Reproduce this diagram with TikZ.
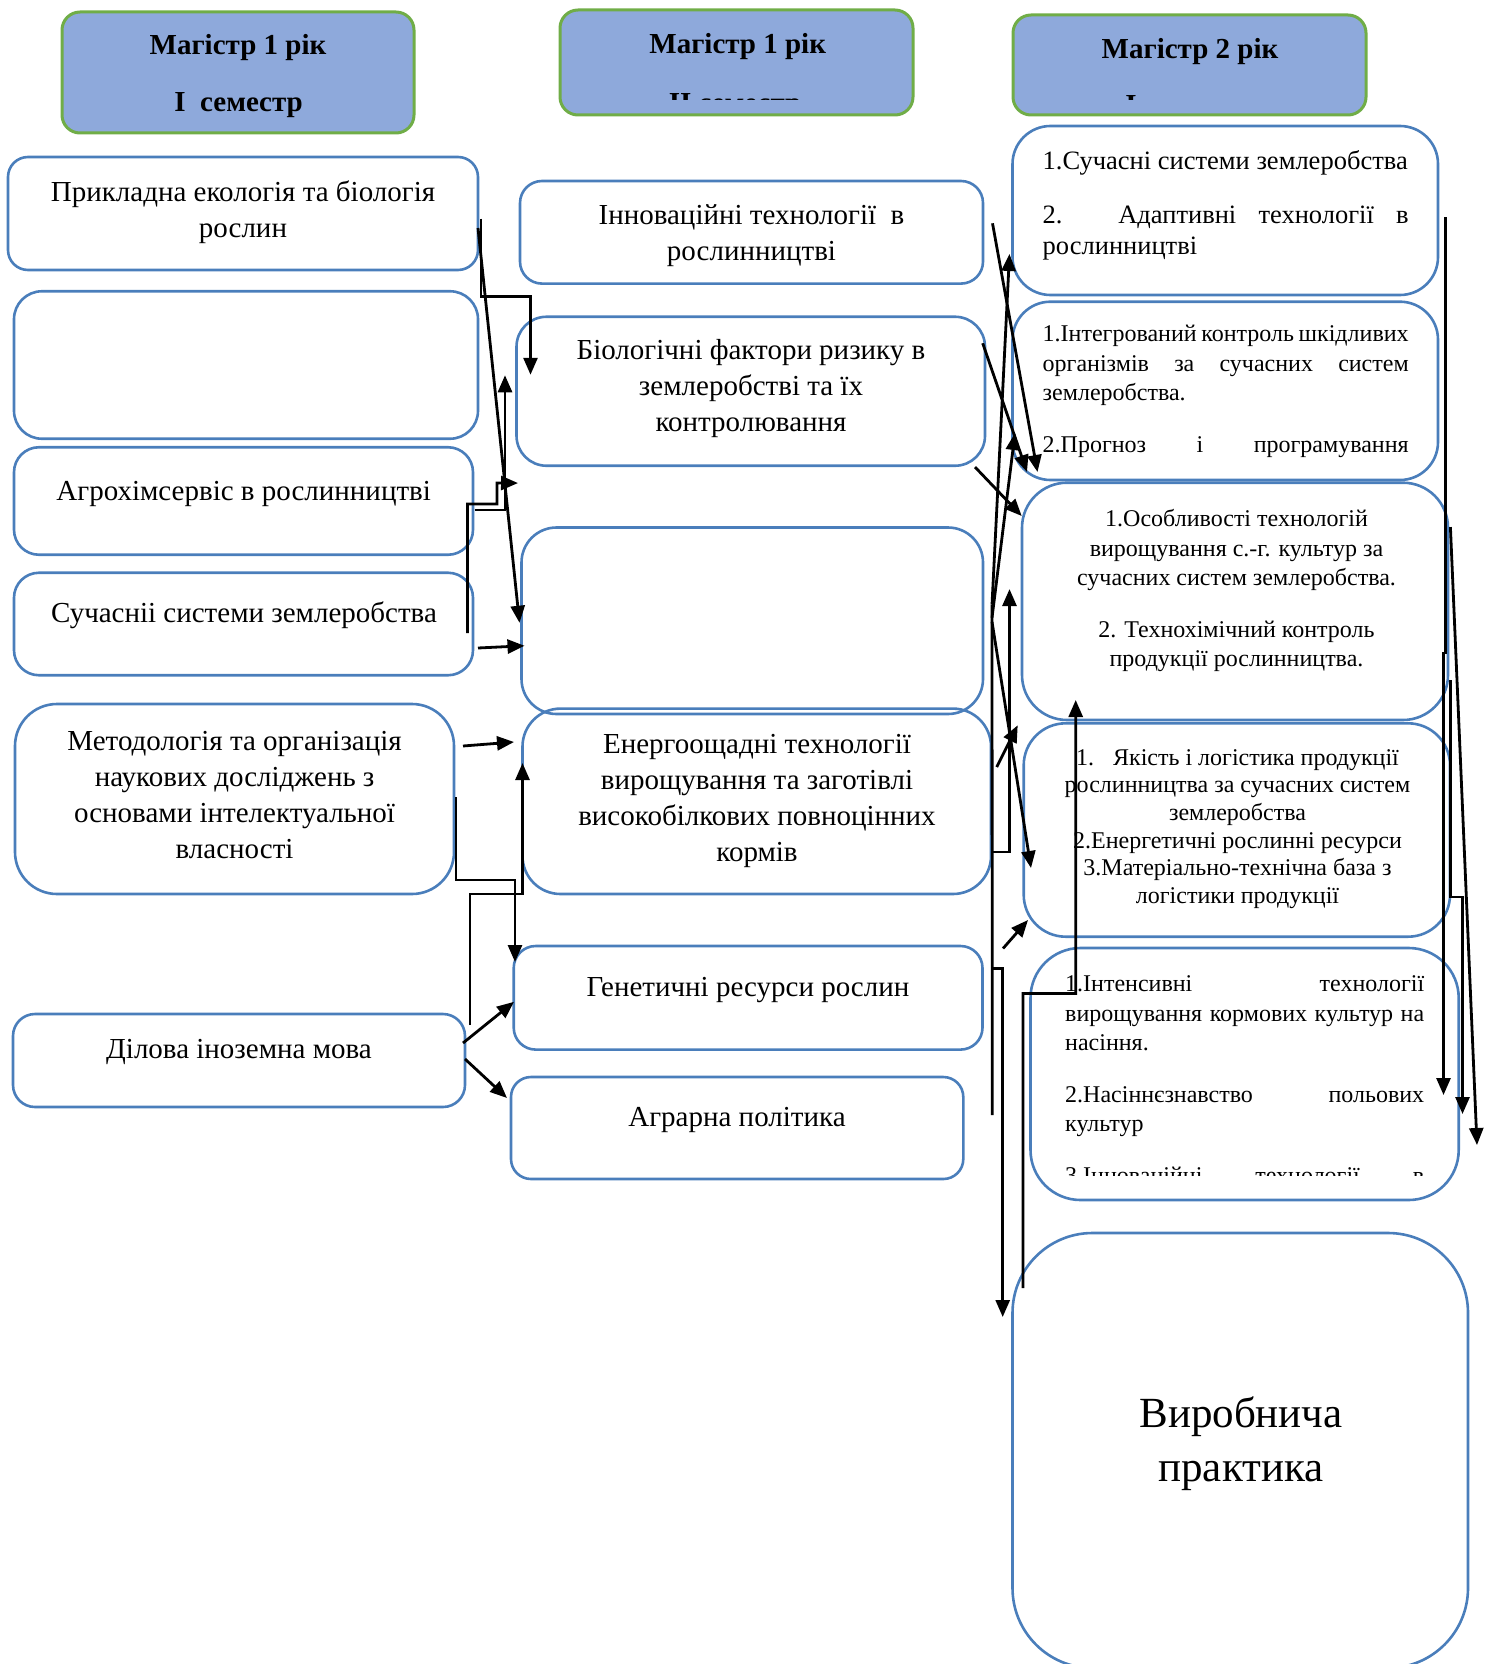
\documentclass[tikz,border=0pt]{standalone}
\usepackage{fontspec}
\setmainfont{Liberation Serif}
\usetikzlibrary{arrows.meta,calc}

\definecolor{boxblue}{RGB}{74,126,187}
\definecolor{hdrfill}{RGB}{142,169,219}
\definecolor{hdrgreen}{RGB}{112,173,71}

\newcommand{\ctab}[1]{\begin{tabular}[t]{@{}c@{}}#1\end{tabular}}
\newcommand{\ltab}[1]{\begin{tabular}[t]{@{}l@{}}#1\end{tabular}}
\newcommand{\jl}[2]{\makebox[#1][s]{#2}}

\begin{document}
\begin{tikzpicture}[x=1pt,y=-1pt]
\tikzstyle{box}=[draw=boxblue,line width=2.6pt,inner sep=0pt,outer sep=0pt]
\tikzstyle{hdr}=[draw=hdrgreen,fill=hdrfill,line width=3pt,rounded corners=18pt,inner sep=0pt,outer sep=0pt]
\tikzstyle{txt}=[inner sep=0pt,anchor=base]
\tikzstyle{hdrtxt}=[txt,font=\bfseries\fontsize{29}{34}\selectfont]
\tikzstyle{bigtxt}=[txt,font=\fontsize{29}{36}\selectfont]
\tikzstyle{midtxt}=[txt,font=\fontsize{26.5}{31.7}\selectfont]
\tikzstyle{smtxt}=[txt,font=\fontsize{24}{29.5}\selectfont]
\tikzstyle{tinytxt}=[txt,font=\fontsize{24}{27.7}\selectfont]
\tikzstyle{hugetxt}=[txt,font=\fontsize{43}{54}\selectfont]
\tikzstyle{arr}=[-{Triangle[length=17pt,width=14pt]},line width=2.8pt]
\tikzstyle{ln}=[line width=2.8pt]
\path[use as bounding box,clip] (0,0) rectangle (1488,1664);

% headers
\node[hdr,minimum width=352pt,minimum height=121pt] (h1) at (238,72.5) {};
\node[hdr,minimum width=353pt,minimum height=105pt] (h2) at (736.5,62.5) {};
\node[hdr,minimum width=353pt,minimum height=100pt] (h3) at (1189.5,65) {};
\node[hdrtxt] (h1a) at (238,55) {Магістр 1 рік};
\node[hdrtxt] (h1b) at (238.6,111.7) {І\ \ семестр};
\node[hdrtxt] (h2a) at (737.7,53.3) {Магістр 1 рік};
\begin{scope}
\clip (560,40) rectangle (913,100);
\node[hdrtxt] (h2b) at (735,112.5) {ІІ семестр};
\end{scope}
\node[hdrtxt] (h3a) at (1190,58.3) {Магістр 2 рік};
\begin{scope}
\clip (1013,40) rectangle (1366,100);
\node[hdrtxt] (h3b) at (1186,114.5) {І семестр};
\end{scope}

% first semester
\node[box,rounded corners=20pt,minimum width=470pt,minimum height=113pt] (l1) at (243,213.5) {};
\node[box,rounded corners=28pt,minimum width=464pt,minimum height=147.5pt] (l2) at (246,365) {};
\node[box,rounded corners=25pt,minimum width=459pt,minimum height=107.5pt] (l3) at (243.5,501) {};
\node[box,rounded corners=25pt,minimum width=459pt,minimum height=102.5pt] (l4) at (243.5,624) {};
\node[box,rounded corners=42pt,minimum width=439pt,minimum height=190pt] (l5) at (234.5,799) {};
\node[box,rounded corners=22pt,minimum width=452pt,minimum height=93pt] (l6) at (239,1060.5) {};
\node[bigtxt] (l1t) at (243,201) {\ctab{Прикладна екологія та біологія\\ рослин}};
\node[bigtxt] (l3t) at (243.7,500) {Агрохімсервіс в рослинництві};
\node[bigtxt] (l4t) at (244,622) {Сучасніі системи землеробства};
\node[bigtxt] (l5t) at (234.6,750) {\ctab{Методологія та організація\\ наукових досліджень з\\ основами інтелектуальної\\ власності}};
\node[bigtxt] (l6t) at (239,1058) {Ділова іноземна мова};

% second semester
\node[box,rounded corners=22pt,minimum width=463pt,minimum height=102.6pt] (m1) at (751.5,232.3) {};
\node[box,rounded corners=30pt,minimum width=468.5pt,minimum height=149pt] (m2) at (750.75,391.25) {};
\node[box,rounded corners=35pt,minimum width=461.5pt,minimum height=186.5pt] (m3) at (752.25,620.75) {};
\node[box,rounded corners=38pt,minimum width=468.5pt,minimum height=185.4pt] (m4) at (756.75,801.3) {};
\node[box,rounded corners=22pt,minimum width=468.8pt,minimum height=103.6pt] (m5) at (748.1,997.8) {};
\node[box,rounded corners=20pt,minimum width=452.3pt,minimum height=102pt] (m6) at (737.15,1128) {};
\node[bigtxt] (m1t) at (751.5,224) {\ctab{Інноваційні технології\ \ в\\ рослинництві}};
\node[bigtxt] (m2t) at (751,359.6) {\ctab{Біологічні фактори ризику в\\ землеробстві та їх\\ контролювання}};
\node[bigtxt] (m4t) at (757,753) {\ctab{Енергоощадні технології\\ вирощування та заготівлі\\ високобілкових повноцінних\\ кормів}};
\node[bigtxt] (m5t) at (748,996) {Генетичні ресурси рослин};
\node[bigtxt] (m6t) at (737,1126) {Аграрна політика};

% second year
\node[box,rounded corners=38pt,minimum width=425.5pt,minimum height=169pt] (r1) at (1225.25,210.5) {};
\node[box,rounded corners=38pt,minimum width=425.5pt,minimum height=178.3pt] (r2) at (1225.25,390.85) {};
\node[box,rounded corners=45pt,minimum width=426pt,minimum height=237.3pt] (r3) at (1235,601.35) {};
\node[box,rounded corners=42pt,minimum width=426.3pt,minimum height=213.4pt] (r4) at (1236.85,830) {};
\node[box,rounded corners=50pt,minimum width=428.2pt,minimum height=252pt] (r5) at (1244.6,1074) {};
\node[box,rounded corners=80pt,minimum width=455.5pt,minimum height=435pt] (r6) at (1240.25,1450.5) {};
\node[midtxt,anchor=base west] (r1t) at (1042.5,170) {\ltab{1.Сучасні системи землеробства\\[21.6pt]
  \jl{366pt}{2. Адаптивні технології в}\\ рослинництві}};
\node[smtxt,anchor=base west] (r2t) at (1042.5,341.7) {\ltab{\jl{366pt}{1.Інтегрований контроль шкідливих}\\
  \jl{366pt}{організмів за сучасних систем}\\ землеробства.\\[22pt] \jl{366pt}{2.Прогноз і програмування}}};
\node[smtxt] (r3t) at (1236.5,526.7) {\ctab{1.Особливості технологій\\ вирощування с.-г. культур за\\
  сучасних систем землеробства.\\[22pt] 2. Технохімічний контроль\\ продукції рослинництва.}};
\node[tinytxt] (r4t) at (1237.5,765) {\ctab{1.\hspace{19pt}Якість і логістика продукції\\ рослинництва за сучасних систем\\
  землеробства\\ 2.Енергетичні рослинні ресурси\\ 3.Матеріально-технічна база з\\ логістики продукції}};
\begin{scope}
\clip (1030,948) rectangle (1460,1175);
\node[smtxt,anchor=base west] (r5t) at (1065,991.7) {\ltab{\jl{359pt}{1.Інтенсивні технології}\\
  \jl{359pt}{вирощування кормових культур на}\\ насіння.\\[22pt] \jl{359pt}{2.Насіннєзнавство польових}\\
  культур\\[22pt] \jl{359pt}{3.Інноваційні технології в}}};
\end{scope}
\node[hugetxt] (r6t) at (1241,1427) {\ctab{Виробнича\\ практика}};

% first semester to second semester
\draw[arr] ($(l1.east)+(3,5)$) |- ($(m2.north west)+(14,-20)$) -- ($(m2.north west)+(14,58)$);
\draw[arr] ($(l1.east)+(0,14.5)$) -- ($(m3.west)+(-2,2)$);
\draw[arr] ($(l3.east)+(1.5,9)$) -| ($(m2.west)+(-11.5,-16)$);
\draw[arr] ($(l4.east)+(-5.5,9)$) -- ++(0,-129) -- ++(29.5,0) -- ++(0,-21) -- ($(m2.south west)+(1.5,17.3)$);
\draw[arr] ($(l4.east)+(5,24)$) -- ($(m3.west)+(3,25)$);
\draw[arr] ($(l5.east)+(9,-53)$) -- ($(m4.west)+(-8.5,-59.3)$);
\draw[arr] ($(l5.east)+(2,-2)$) |- ($(m5.north west)+(1.3,-66)$) -- ($(m5.north west)+(1.3,16)$);
\draw[arr] ($(l6.north east)+(5,11)$) |- (m4.south west) -- ($(m4.west)+(0,-38.3)$);
\draw[arr] ($(l6.east)+(-2,-17.5)$) -- ($(m5.west)+(0.3,4)$);
\draw[arr] ($(l6.east)+(0,-1.5)$) -- ($(m6.west)+(-4,-30)$);

% second semester to second year
\draw[arr] ($(m1.east)+(9.5,-9)$) -- ($(r2.south west)+(25,-8)$);
\draw[arr] ($(m2.east)+(-2.3,-48)$) -- ($(r2.south west)+(14.5,-8)$);
\draw[arr] ($(m2.south east)+(-10,1.3)$) -- ($(r3.north west)+(-0.3,33.3)$);
\draw[arr] ($(m3.east)+(9,-16)$) -- ($(r1.south west)+(-3,-41)$);
\draw[arr] ($(m3.east)+(9,-3)$) -- ($(r2.south west)+(2.5,-47)$);
\draw[arr] ($(m3.east)+(9,1)$) -- ($(r4.west)+(7.3,38)$);
\draw[ln] ($(m3.east)+(9,-16)$) -- ($(m6.east)+(29,-13)$);
\draw[arr] ($(m4.east)+(1,50.7)$) -| ($(r3.west)+(-12.5,-12.3)$);
\draw[arr] ($(m4.east)+(5.7,-34.3)$) -- ($(r4.north west)+(-6,2)$);
\draw[arr] ($(m5.north east)+(20.5,2.5)$) -- ($(r4.south west)+(4.3,-16.7)$);
\draw[arr] ($(m5.east)+(9.5,-29)$) -| ($(r6.north west)+(-9.8,84)$);

% inside second year
\draw[arr] ($(r6.north west)+(10.5,55)$) |- ($(r5.north west)+(45.2,45.5)$) -- ($(r3.south west)+(53.7,-20)$);
\draw[arr] ($(r1.east)+(7.5,6.5)$) -- ++(0,436) -- ++(-2,0) -- ($(r5.east)+(-15.2,21)$);
\draw[arr] ($(r3.east)+(2.4,-74.3)$) -- ($(r5.east)+(18.3,71)$);
\draw[arr] ($(r3.east)+(2.4,78.7)$) |- ($(r4.east)+(12.5,67)$) -- ($(r5.east)+(3.8,40)$);
\end{tikzpicture}
\end{document}
